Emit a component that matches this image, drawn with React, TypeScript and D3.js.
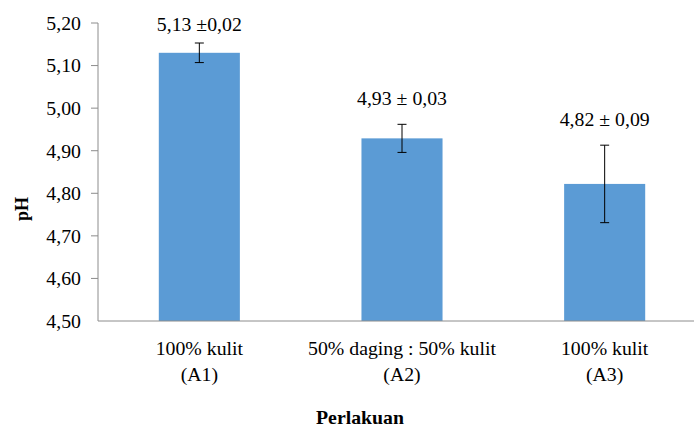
import React from "react";
import * as d3 from "d3";

const categoriesLine1 = ["100% kulit", "50% daging : 50% kulit", "100% kulit"];
const categoriesLine2 = ["(A1)", "(A2)", "(A3)"];
const values = [5.13, 4.929, 4.822];
const errors = [0.023, 0.033, 0.091];
const valueLabels = ["5,13 ±0,02", "4,93 ± 0,03", "4,82 ± 0,09"];
const yTicks = [4.5, 4.6, 4.7, 4.8, 4.9, 5.0, 5.1, 5.2];
const labelGap = [12, 19, 19];

const W = 694;
const H = 428;
const FONT = "Liberation Serif";
const FS = "18px";
const SX = 1.1;

function T(props: { x: number; y: number; anchor?: string; bold?: boolean; dy?: string; children: React.ReactNode }) {
  const { x, y, anchor = "middle", bold = false, dy, children } = props;
  return (
    <text
      transform={`translate(${x},${y}) scale(${SX},1)`}
      dy={dy}
      textAnchor={anchor}
      fill="#000"
      style={{ fontFamily: FONT, fontSize: FS, fontWeight: bold ? "bold" : "normal" }}
    >
      {children}
    </text>
  );
}

export default function App() {
  const left = 98;
  const right = 706;
  const top = 23;
  const bottom = 321;
  const idx = values.map((_, i) => String(i));
  const x = d3.scaleBand().domain(idx).range([left, right]).padding(0);
  const y = d3.scaleLinear().domain([4.5, 5.2]).range([bottom, top]);
  const barW = x.bandwidth() * 0.4;
  const fmt = (v: number) => d3.format(".2f")(v).replace(".", ",");
  const axisColor = "#8c8c8c";
  const cxOf = (i: number) => (x(String(i)) as number) + x.bandwidth() / 2;

  return (
    <svg width={W} height={H} style={{ position: "absolute", left: 0, top: 0, background: "#fff" }}>
      {/* y axis */}
      <line x1={left} x2={left} y1={top} y2={bottom} stroke={axisColor} strokeWidth={1} />
      {yTicks.map((t) => (
        <g key={t}>
          {t > 4.5 && (
            <line x1={left - 7} x2={left} y1={y(t)} y2={y(t)} stroke={axisColor} strokeWidth={1} />
          )}
          <T x={81} y={y(t)} dy="0.38em" anchor="end">
            {fmt(t)}
          </T>
        </g>
      ))}
      {/* bars */}
      {values.map((v, i) => (
        <rect key={"b" + i} x={cxOf(i) - barW / 2} y={y(v)} width={barW} height={bottom - y(v)} fill="#5b9bd5" />
      ))}
      {/* x axis */}
      <line x1={left} x2={right} y1={bottom} y2={bottom} stroke={axisColor} strokeWidth={1} />
      {/* error bars */}
      {values.map((v, i) => {
        const cx = cxOf(i);
        const yt = y(v + errors[i]);
        const yb = y(v - errors[i]);
        return (
          <g key={"e" + i} stroke="#000" strokeWidth={1}>
            <line x1={cx} x2={cx} y1={yt} y2={yb} />
            <line x1={cx - 4.5} x2={cx + 4.5} y1={yt} y2={yt} />
            <line x1={cx - 4.5} x2={cx + 4.5} y1={yb} y2={yb} />
          </g>
        );
      })}
      {/* value labels */}
      {values.map((v, i) => (
        <T key={"l" + i} x={cxOf(i)} y={y(v + errors[i]) - labelGap[i]}>
          {valueLabels[i]}
        </T>
      ))}
      {/* category labels */}
      {values.map((_, i) => (
        <g key={"c" + i}>
          <T x={cxOf(i)} y={355}>
            {categoriesLine1[i]}
          </T>
          <T x={cxOf(i)} y={381}>
            {categoriesLine2[i]}
          </T>
        </g>
      ))}
      {/* axis titles */}
      <T x={360} y={424} bold>
        Perlakuan
      </T>
      <text
        transform="translate(28,209) rotate(-90) scale(1,1.1)"
        textAnchor="middle"
        fill="#000"
        style={{ fontFamily: FONT, fontSize: FS, fontWeight: "bold" }}
      >
        pH
      </text>
    </svg>
  );
}
